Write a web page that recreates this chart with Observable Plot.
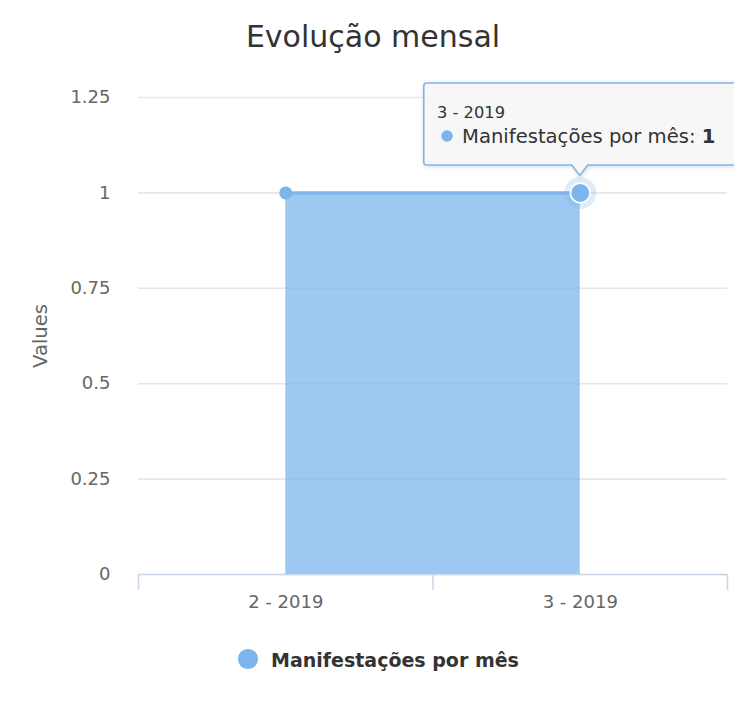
<!DOCTYPE html>
<html><head><meta charset="utf-8">
<script src="https://cdn.jsdelivr.net/npm/d3@7"></script>
<script src="https://cdn.jsdelivr.net/npm/@observablehq/plot@0.6"></script>
<style>
html,body{margin:0;padding:0;background:#fff;overflow:hidden}
#chart{position:relative;width:734px;height:710px;font-family:"DejaVu Sans",sans-serif}
#title{box-sizing:border-box;height:70px;padding-top:19px;padding-left:12px;text-align:center;font-size:30px;line-height:35px;color:#333333;white-space:nowrap}
#legend{position:relative;height:80px;width:734px}
#legend .sym{position:absolute;left:238.2px;top:19.2px;width:19.6px;height:19.6px;border-radius:50%;background:#7cb5ec}
#legend .lab{position:absolute;left:271px;top:19.4px;font-weight:bold;font-size:19px;line-height:22px;color:#333333;white-space:nowrap}
</style></head><body>
<div id="chart"><div id="title"></div><div id="plot"></div><div id="legend"></div></div>
<script>
const chartTitle = "Evolução mensal";
const seriesName = "Manifestações por mês";
const yAxisTitle = "Values";
const months = ["2 - 2019", "3 - 2019"];
const values = [1, 1];
const yTicks = [0, 0.25, 0.5, 0.75, 1, 1.25];
const yTickLabels = ["0", "0.25", "0.5", "0.75", "1", "1.25"];
const hoveredIndex = 1;

const color = "#7cb5ec";
const data = months.map((m, i) => ({month: m, pos: i + 0.5, value: values[i]}));
const hovered = [data[hoveredIndex]];

document.getElementById("title").textContent = chartTitle;

const plot = Plot.plot({
  width: 734,
  height: 560,
  marginTop: 27,
  marginBottom: 56,
  marginLeft: 138,
  marginRight: 7,
  style: {fontFamily: "DejaVu Sans, sans-serif", background: "white", overflow: "hidden"},
  x: {type: "linear", domain: [0, months.length]},
  y: {type: "linear", domain: [0, 1.25]},
  marks: [
    Plot.gridY(yTicks, {stroke: "#e6e6e6", strokeOpacity: 1, strokeWidth: 1.6}),
    Plot.axisY(yTicks, {tickSize: 0, tickPadding: 28, fontSize: 18, fill: "#666666", label: null,
      tickFormat: d => yTickLabels[yTicks.indexOf(d)]}),
    Plot.text([yAxisTitle], {frameAnchor: "left", dx: -97.3, rotate: -90, textAnchor: "middle",
      lineAnchor: "middle", fontSize: 19.6, fill: "#666666"}),
    Plot.areaY(data, {x: "pos", y: "value", fill: color, fillOpacity: 0.75}),
    Plot.ruleY([0], {stroke: "#ccd6eb", strokeWidth: 1.6}),
    Plot.axisX(d3.range(months.length + 1), {tickSize: 16, tickFormat: () => "", stroke: "#ccd6eb",
      strokeWidth: 1.6, strokeOpacity: 1, label: null}),
    Plot.axisX(data.map(d => d.pos), {tickSize: 0, tickPadding: 21, fontSize: 18, fill: "#666666",
      label: null, tickFormat: d => months[data.findIndex(e => e.pos === d)]}),
    Plot.lineY(data, {x: "pos", y: "value", stroke: color, strokeWidth: 3.3}),
    Plot.dot(data, {x: "pos", y: "value", r: 6.5, fill: color, stroke: null}),
    Plot.dot(hovered, {x: "pos", y: "value", r: 16, fill: color, fillOpacity: 0.25, stroke: null}),
    Plot.dot(hovered, {x: "pos", y: "value", r: 9.8, fill: color, stroke: "white", strokeWidth: 1.6})
  ]
});
document.getElementById("plot").appendChild(plot);

// Tooltip anchored to the hovered point through the plot's scales
const xs = plot.scale("x"), ys = plot.scale("y");
const px = xs.apply(hovered[0].pos), py = ys.apply(hovered[0].value);
const svg = d3.select(plot);
const tip = svg.append("g").attr("class", "tooltip").attr("text-anchor", "start");
const L = px - 156, T = py - 109.4, B = py - 27.4, R = px + 220, tipY = py - 17;
tip.append("path")
  .attr("d", `M${L + 3},${T} H${R} V${B} H${px + 8} L${px},${tipY} L${px - 8},${B} H${L + 3} A3,3 0 0 1 ${L},${B - 3} V${T + 3} A3,3 0 0 1 ${L + 3},${T} Z`)
  .attr("fill", "rgba(249,249,249,0.9)")
  .attr("stroke", color)
  .attr("stroke-width", 1.6)
  .style("filter", "drop-shadow(1.5px 1.5px 2px rgba(0,0,0,0.16))");
tip.append("text")
  .attr("x", px - 142.75).attr("y", py - 74.4).attr("text-anchor", "start")
  .attr("font-family", "DejaVu Sans, sans-serif").attr("font-size", 16.3).attr("fill", "#333333")
  .text(months[hoveredIndex]);
tip.append("circle")
  .attr("cx", px - 132.75).attr("cy", py - 56.4).attr("r", 5.8).attr("fill", color);
const t2 = tip.append("text")
  .attr("x", px - 117.75).attr("y", py - 49.4).attr("text-anchor", "start")
  .attr("font-family", "DejaVu Sans, sans-serif").attr("font-size", 19.6).attr("fill", "#333333");
t2.append("tspan").text(seriesName + ": ");
t2.append("tspan").attr("font-weight", "bold").text(values[hoveredIndex]);

// Legend
const legend = document.getElementById("legend");
legend.innerHTML = `<span class="sym"></span><span class="lab"></span>`;
legend.querySelector(".lab").textContent = seriesName;
</script>
</body></html>
